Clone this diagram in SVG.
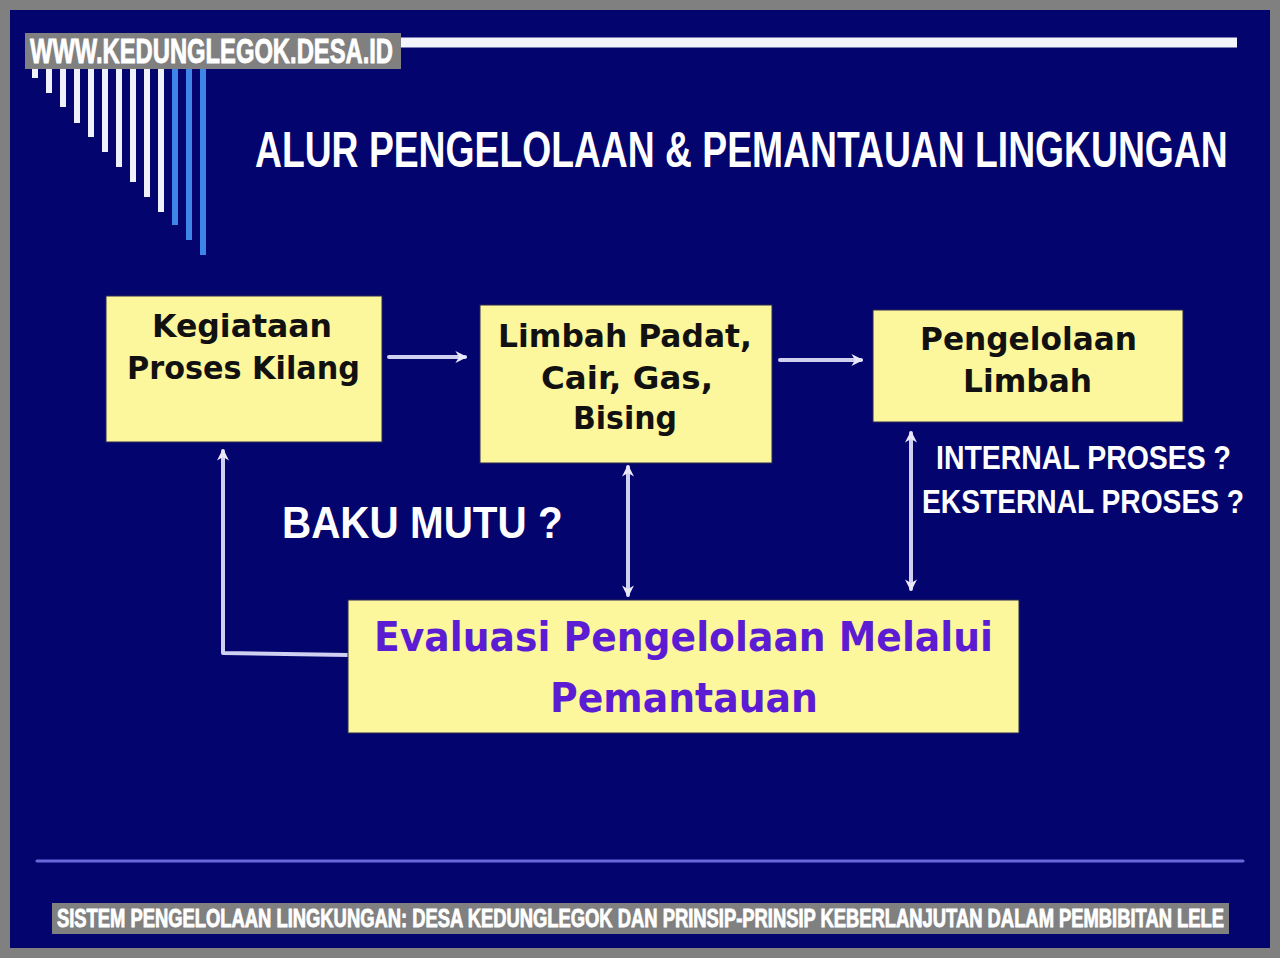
<svg xmlns="http://www.w3.org/2000/svg" width="1280" height="958" viewBox="0 0 1280 958">
  <defs>
    <style>
      .box { fill: #fcf69c; stroke: #2a2a50; stroke-width: 1; }
      .btxt { font-family: "DejaVu Sans", "Liberation Sans", sans-serif; font-weight: bold; font-size: 32px; fill: #111111; text-anchor: middle; }
      .ptxt { font-family: "DejaVu Sans", "Liberation Sans", sans-serif; font-weight: bold; font-size: 40px; fill: #5c1cd4; text-anchor: middle; }
      .wtxt { font-family: "Liberation Sans", Arial, sans-serif; font-weight: bold; fill: #ffffff; }
      .cond { font-family: "Liberation Sans", Arial, sans-serif; font-weight: bold; fill: #ffffff; stroke: #ffffff; stroke-width: 0.9; }
      .conn { fill: none; stroke: #cfd0f2; stroke-width: 4; stroke-linecap: round; stroke-linejoin: round; }
      .stripe { stroke: #eef0fa; stroke-width: 6; }
      .stripeb { stroke: #3d86e8; stroke-width: 6; }
    </style>
    <marker id="ah" viewBox="0 0 10 10" refX="8" refY="5" markerWidth="12" markerHeight="12" markerUnits="userSpaceOnUse" orient="auto-start-reverse">
      <path d="M0,0 L10,5 L0,10 L3,5 Z" fill="#e8e8fa"/>
    </marker>
  </defs>

  <!-- frame and background -->
  <rect x="0" y="0" width="1280" height="958" fill="#808080"/>
  <rect x="10" y="10" width="1260" height="938" fill="#04046e"/>

  <!-- decorative top line and stripes -->
  <line x1="30" y1="42.5" x2="1237" y2="42.5" stroke="#f4f4fc" stroke-width="10"/>
  <g id="stripes">
    <line class="stripe" x1="35" y1="55" x2="35" y2="78"/>
    <line class="stripe" x1="49" y1="55" x2="49" y2="93"/>
    <line class="stripe" x1="63" y1="55" x2="63" y2="107"/>
    <line class="stripe" x1="77" y1="55" x2="77" y2="123"/>
    <line class="stripe" x1="91" y1="55" x2="91" y2="137"/>
    <line class="stripe" x1="105" y1="55" x2="105" y2="152"/>
    <line class="stripe" x1="119" y1="55" x2="119" y2="167"/>
    <line class="stripe" x1="133" y1="55" x2="133" y2="182"/>
    <line class="stripe" x1="147" y1="55" x2="147" y2="197"/>
    <line class="stripe" x1="161" y1="55" x2="161" y2="212"/>
    <line class="stripeb" x1="175" y1="55" x2="175" y2="225"/>
    <line class="stripeb" x1="189" y1="55" x2="189" y2="240"/>
    <line class="stripeb" x1="203" y1="55" x2="203" y2="255"/>
  </g>

  <!-- watermark -->
  <g id="watermark">
    <rect x="25" y="33" width="376" height="36" fill="#808080"/>
    <text class="cond" transform="translate(30,63) scale(0.676,1)" x="0" y="0" font-size="35" textLength="537" lengthAdjust="spacingAndGlyphs">WWW.KEDUNGLEGOK.DESA.ID</text>
  </g>

  <!-- title -->
  <text id="title" class="wtxt" transform="translate(255,167) scale(0.733,1)" x="0" y="0" font-size="50" textLength="1327" lengthAdjust="spacingAndGlyphs">ALUR PENGELOLAAN &amp; PEMANTAUAN LINGKUNGAN</text>

  <!-- connectors -->
  <g id="connectors">
    <line class="conn" x1="389" y1="357" x2="465" y2="357" marker-end="url(#ah)"/>
    <line class="conn" x1="780" y1="360" x2="861" y2="360" marker-end="url(#ah)"/>
    <line class="conn" x1="628" y1="467" x2="628" y2="595" marker-start="url(#ah)" marker-end="url(#ah)"/>
    <line class="conn" x1="911" y1="433" x2="911" y2="589" marker-start="url(#ah)" marker-end="url(#ah)"/>
    <polyline class="conn" points="348,655 223,653 223,451" marker-end="url(#ah)"/>
  </g>

  <!-- nodes -->
  <g id="node-kegiatan">
    <rect class="box" x="106" y="296" width="276" height="146"/>
    <text class="btxt" x="242" y="337" textLength="180" lengthAdjust="spacingAndGlyphs">Kegiataan</text>
    <text class="btxt" x="243.5" y="379" textLength="233" lengthAdjust="spacingAndGlyphs">Proses Kilang</text>
  </g>

  <g id="node-limbah">
    <rect class="box" x="480" y="305" width="292" height="158"/>
    <text class="btxt" x="625" y="347" textLength="254" lengthAdjust="spacingAndGlyphs">Limbah Padat,</text>
    <text class="btxt" x="627" y="389" textLength="172" lengthAdjust="spacingAndGlyphs">Cair, Gas,</text>
    <text class="btxt" x="625" y="429" textLength="104" lengthAdjust="spacingAndGlyphs">Bising</text>
  </g>

  <g id="node-pengelolaan">
    <rect class="box" x="873" y="310" width="310" height="112"/>
    <text class="btxt" x="1028.5" y="350" textLength="217" lengthAdjust="spacingAndGlyphs">Pengelolaan</text>
    <text class="btxt" x="1027.5" y="392" textLength="129" lengthAdjust="spacingAndGlyphs">Limbah</text>
  </g>

  <g id="node-evaluasi">
    <rect class="box" x="348" y="600" width="671" height="133"/>
    <text class="ptxt" x="683.5" y="651" textLength="619" lengthAdjust="spacingAndGlyphs">Evaluasi Pengelolaan Melalui</text>
    <text class="ptxt" x="684" y="712" textLength="268" lengthAdjust="spacingAndGlyphs">Pemantauan</text>
  </g>

  <!-- free labels -->
  <g id="labels">
    <text class="wtxt" transform="translate(282,538) scale(0.92,1)" x="0" y="0" font-size="44" textLength="305" lengthAdjust="spacingAndGlyphs">BAKU MUTU ?</text>
    <text class="wtxt" transform="translate(936,469) scale(0.86,1)" x="0" y="0" font-size="33" textLength="343" lengthAdjust="spacingAndGlyphs">INTERNAL PROSES ?</text>
    <text class="wtxt" transform="translate(922,513) scale(0.852,1)" x="0" y="0" font-size="33" textLength="378" lengthAdjust="spacingAndGlyphs">EKSTERNAL PROSES ?</text>
  </g>

  <!-- bottom rule and caption -->
  <line x1="37" y1="861" x2="1243" y2="861" stroke="#6868dc" stroke-width="3" stroke-linecap="round"/>
  <g id="caption">
    <rect x="52" y="903" width="1177" height="31" fill="#808080"/>
    <text class="cond" transform="translate(57,926.5) scale(0.698,1)" x="0" y="0" font-size="26" textLength="1672" lengthAdjust="spacingAndGlyphs">SISTEM PENGELOLAAN LINGKUNGAN: DESA KEDUNGLEGOK DAN PRINSIP-PRINSIP KEBERLANJUTAN DALAM PEMBIBITAN LELE</text>
  </g>
</svg>
